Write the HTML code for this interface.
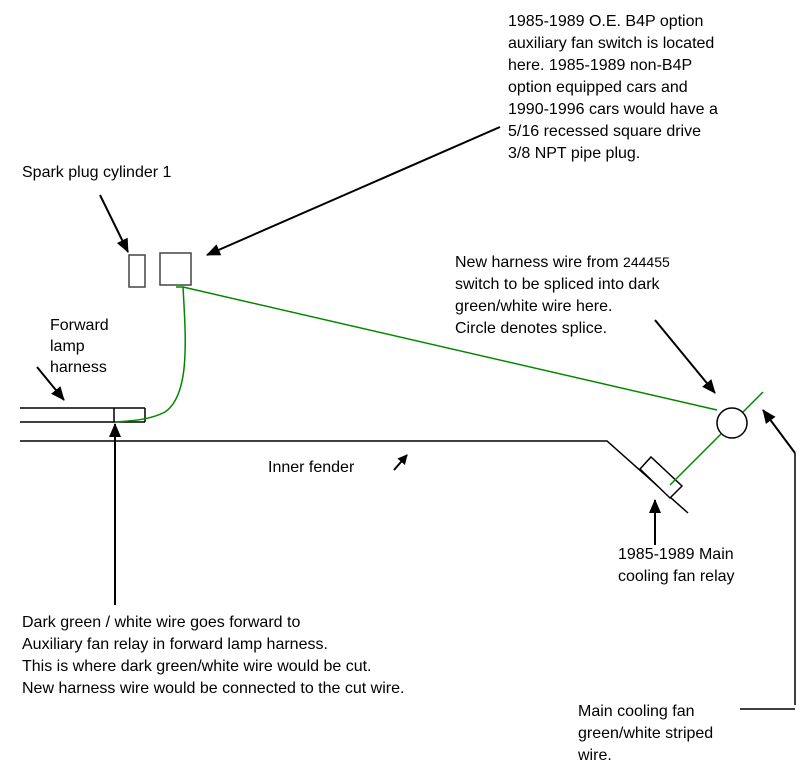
<!DOCTYPE html>
<html><head><meta charset="utf-8"><style>
body{margin:0;background:#fff}
svg text{font-family:"Liberation Sans",sans-serif;font-size:16px;fill:#000}
</style></head><body>
<svg width="800" height="769" viewBox="0 0 800 769" xmlns="http://www.w3.org/2000/svg">
<defs><marker id="a" markerWidth="10" markerHeight="10" refX="9" refY="5" orient="auto" markerUnits="userSpaceOnUse"><path d="M0,0 L10,5 L0,10 z" fill="#000"/></marker>
<marker id="b" markerWidth="14" markerHeight="14" refX="13" refY="7" orient="auto" markerUnits="userSpaceOnUse"><path d="M0,1 L14,7 L0,13 z" fill="#000"/></marker></defs>
<g stroke="#000" stroke-width="1.5" fill="none">
<rect x="129" y="255" width="16" height="32" stroke="#444"/>
<rect x="160" y="253" width="31" height="32" stroke="#444"/>
<line x1="20" y1="408" x2="145" y2="408"/>
<line x1="20" y1="422" x2="145" y2="422"/>
<line x1="114" y1="408" x2="114" y2="422"/>
<line x1="145" y1="408" x2="145" y2="422"/>
<polyline points="20,441 607,441 688,513"/>
<polygon points="640,469 651,457 682,486 670,498" fill="#fff"/>
<circle cx="732" cy="423" r="15"/>
<polyline points="795,705 795,453"/>
<line x1="740" y1="709" x2="795" y2="709"/>
</g>
<g stroke="#080" stroke-width="1.5" fill="none">
<path d="M176,287 L183,287 C186,340 190,395 165,412 C150,420 130,421 115,422"/>
<line x1="183" y1="287" x2="717" y2="410"/>
<line x1="670" y1="485" x2="721" y2="434"/>
<line x1="743" y1="412" x2="763" y2="392"/>
</g>
<g stroke="#000" stroke-width="2" fill="none">
<line x1="100" y1="195" x2="128" y2="252" marker-end="url(#b)"/>
<line x1="500" y1="127" x2="207" y2="255" marker-end="url(#b)"/>
<line x1="37" y1="367" x2="64" y2="400" marker-end="url(#b)"/>
<line x1="394" y1="470" x2="407" y2="455" marker-end="url(#a)"/>
<line x1="655" y1="320" x2="715" y2="393" marker-end="url(#b)"/>
<line x1="655" y1="545" x2="655" y2="500" marker-end="url(#b)"/>
<line x1="115" y1="605" x2="115" y2="424" marker-end="url(#b)"/>
<line x1="795" y1="453" x2="763" y2="410" marker-end="url(#b)"/>
</g>
<text x="508" y="26">1985-1989 O.E. B4P option</text>
<text x="508" y="48">auxiliary fan switch is located</text>
<text x="508" y="70">here. 1985-1989 non-B4P</text>
<text x="508" y="92">option equipped cars and</text>
<text x="508" y="114">1990-1996 cars would have a</text>
<text x="508" y="136">5/16 recessed square drive</text>
<text x="508" y="158">3/8 NPT pipe plug.</text>
<text x="22" y="177">Spark plug cylinder 1</text>
<text x="455" y="267">New harness wire from <tspan font-size="14">244455</tspan></text>
<text x="455" y="289">switch to be spliced into dark</text>
<text x="455" y="311">green/white wire here.</text>
<text x="455" y="333">Circle denotes splice.</text>
<text x="50" y="330">Forward</text>
<text x="50" y="351">lamp</text>
<text x="50" y="372">harness</text>
<text x="268" y="472">Inner fender</text>
<text x="618" y="559">1985-1989 Main</text>
<text x="618" y="581">cooling fan relay</text>
<text x="22" y="627">Dark green / white wire goes forward to</text>
<text x="22" y="649">Auxiliary fan relay in forward lamp harness.</text>
<text x="22" y="671">This is where dark green/white wire would be cut.</text>
<text x="22" y="693">New harness wire would be connected to the cut wire.</text>
<text x="578" y="716">Main cooling fan</text>
<text x="578" y="738">green/white striped</text>
<text x="578" y="760">wire.</text>
</svg>
</body></html>
